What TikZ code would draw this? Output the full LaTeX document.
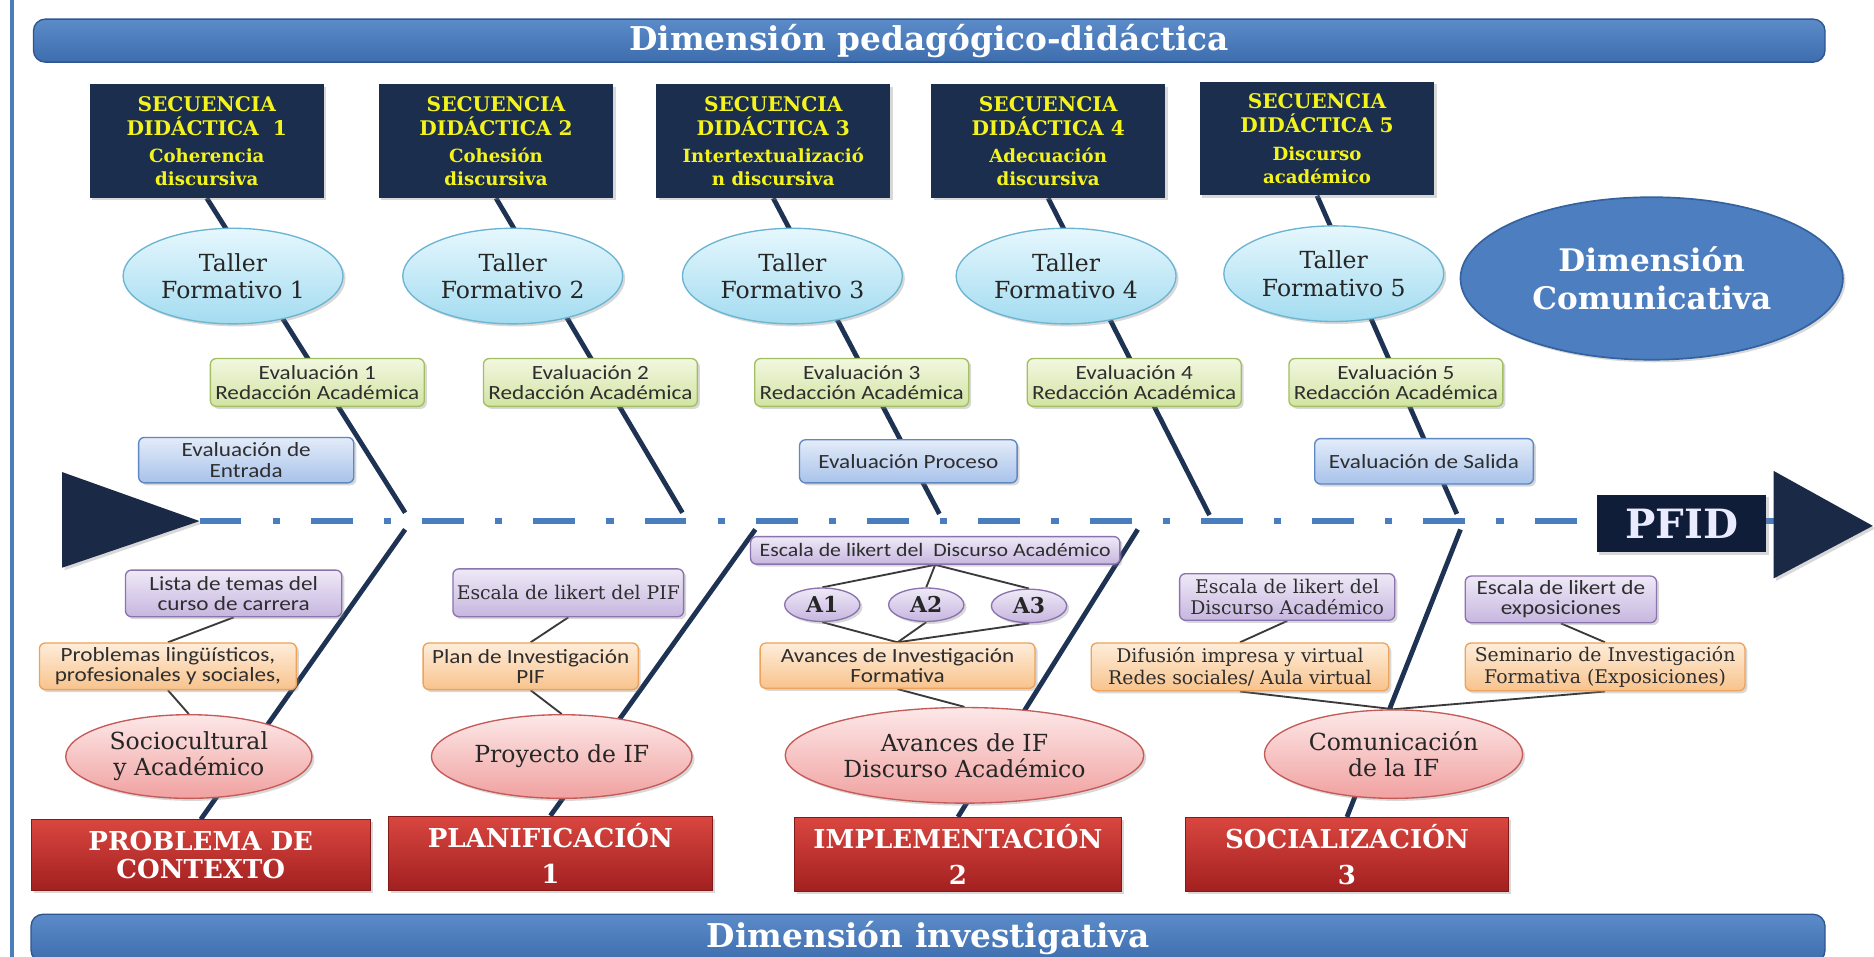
\documentclass[tikz,border=0pt]{standalone}
\usepackage{fontspec}
\setmainfont{DejaVu Serif}
\newfontfamily\calib[FakeStretch=1.15]{Carlito}
\usetikzlibrary{shapes.geometric,shadows,backgrounds}

\definecolor{bannerTop}{HTML}{5B8BC8}
\definecolor{bannerBot}{HTML}{3E6DAE}
\definecolor{bannerLine}{HTML}{2D5690}
\definecolor{seqNavy}{HTML}{1C2E4E}
\definecolor{seqText}{HTML}{F4F41C}
\definecolor{cyanTop}{HTML}{E6F7FD}
\definecolor{cyanBot}{HTML}{A3DCF0}
\definecolor{cyanLine}{HTML}{6CB5D2}
\definecolor{greenTop}{HTML}{F2F7E0}
\definecolor{greenBot}{HTML}{D2E4A2}
\definecolor{greenLine}{HTML}{A2BF63}
\definecolor{blueTop}{HTML}{E3ECF9}
\definecolor{blueBot}{HTML}{A8C2EA}
\definecolor{blueLine}{HTML}{5F87C2}
\definecolor{purpTop}{HTML}{EFE9F7}
\definecolor{purpBot}{HTML}{C6B6DF}
\definecolor{purpLine}{HTML}{8B73AE}
\definecolor{orgTop}{HTML}{FEEDDA}
\definecolor{orgBot}{HTML}{F8C38C}
\definecolor{orgLine}{HTML}{EDA35A}
\definecolor{pinkTop}{HTML}{FDE8E8}
\definecolor{pinkBot}{HTML}{F0A1A0}
\definecolor{pinkLine}{HTML}{C55B58}
\definecolor{redTop}{HTML}{D9463F}
\definecolor{redBot}{HTML}{A22020}
\definecolor{comFill}{HTML}{4D7FC0}
\definecolor{comLine}{HTML}{34629E}
\definecolor{arrowNavy}{HTML}{1A2946}
\definecolor{pfidNavy}{HTML}{0F1D38}
\definecolor{spineBlue}{HTML}{4A7DBE}
\definecolor{boneNavy}{HTML}{1E3254}
\definecolor{linkGray}{HTML}{3A3A3A}
\definecolor{boxText}{HTML}{2E2E2E}

\tikzset{
  sz/.style 2 args={minimum width=#1*0.025cm, minimum height=#2*0.025cm},
  shd/.style={drop shadow={shadow xshift=1.5pt, shadow yshift=-1.5pt, opacity=0.3}},
  banner/.style={rectangle, rounded corners=7pt, top color=bannerTop, bottom color=bannerBot,
    draw=bannerLine, line width=0.8pt, text=white, inner sep=0pt,
    font=\bfseries\fontsize{19.5}{22}\selectfont},
  seqbox/.style={rectangle, fill=seqNavy, text=seqText, inner sep=0pt, align=center, shd,
    font=\bfseries\fontsize{12}{13.6}\selectfont},
  taller/.style={ellipse, inner sep=0pt, top color=cyanTop, bottom color=cyanBot, draw=cyanLine,
    line width=0.8pt, align=center, text=black!85, shd, font=\fontsize{14}{16.4}\selectfont},
  smallbox/.style={rectangle, rounded corners=3.5pt, inner sep=0pt, align=center,
    line width=0.8pt, text=boxText, shd},
  sans/.style={font=\calib\fontsize{12}{12.2}\selectfont},
  serifsm/.style={font=\fontsize{11.2}{12.8}\selectfont},
  evalbox/.style={smallbox, sans, top color=greenTop, bottom color=greenBot, draw=greenLine},
  bluebox/.style={smallbox, sans, top color=blueTop, bottom color=blueBot, draw=blueLine},
  purpbox/.style={smallbox, top color=purpTop, bottom color=purpBot, draw=purpLine},
  orgbox/.style={smallbox, top color=orgTop, bottom color=orgBot, draw=orgLine},
  aball/.style={ellipse, inner sep=0pt, top color=purpTop, bottom color=purpBot, draw=purpLine,
    line width=0.8pt, text=black!85, shd, sz={63}{28}, font=\bfseries\fontsize{13}{13}\selectfont},
  pinkell/.style={ellipse, inner sep=0pt, top color=pinkTop, bottom color=pinkBot, draw=pinkLine,
    line width=0.8pt, align=center, text=black!85, shd, font=\fontsize{14}{15.6}\selectfont},
  redbox/.style={rectangle, inner sep=0pt, top color=redTop, bottom color=redBot,
    draw=redBot!80!black, line width=0.6pt, align=center, text=white, shd,
    font=\bfseries\fontsize{15.5}{17}\selectfont},
  bone/.style={draw=boneNavy, line width=2.85pt},
  link/.style={draw=linkGray, line width=1.1pt},
  spine/.style={draw=spineBlue, line width=3.2pt,
    dash pattern=on 24.9pt off 18.5pt on 4.3pt off 18.5pt},
}

\begin{document}
\begin{tikzpicture}[x=0.025cm, y=-0.025cm]
\useasboundingbox (0,0) rectangle (1568,800);

% thin rule along the left edge
\draw[spineBlue, line width=2.2pt] (10,-5) -- (10,805);

% dimension banners
\node[banner, sz={1499}{36}] (dimPed) at (777.5,34) {Dimensión pedagógico-didáctica};
\node[banner, sz={1501}{40}] (dimInv) at (776.5,785) {Dimensión investigativa};

% didactic sequences
\node[seqbox, sz={196}{95}] (sd1) at (173,118)
  {SECUENCIA\\[0.6pt]DIDÁCTICA\ \ 1\\[2.8pt]\fontsize{10.8}{13}\selectfont Coherencia\\\fontsize{10.8}{13}\selectfont discursiva};
\node[seqbox, sz={196}{95}] (sd2) at (415,118)
  {SECUENCIA\\[0.6pt]DIDÁCTICA 2\\[2.8pt]\fontsize{10.8}{13}\selectfont Cohesión\\\fontsize{10.8}{13}\selectfont discursiva};
\node[seqbox, sz={196}{95}] (sd3) at (647,118)
  {SECUENCIA\\[0.6pt]DIDÁCTICA 3\\[2.8pt]\fontsize{10.8}{13}\selectfont Intertextualizació\\\fontsize{10.8}{13}\selectfont n discursiva};
\node[seqbox, sz={196}{95}] (sd4) at (877,118)
  {SECUENCIA\\[0.6pt]DIDÁCTICA 4\\[2.8pt]\fontsize{10.8}{13}\selectfont Adecuación\\\fontsize{10.8}{13}\selectfont discursiva};
\node[seqbox, sz={196}{95}] (sd5) at (1102,116)
  {SECUENCIA\\[0.6pt]DIDÁCTICA 5\\[2.8pt]\fontsize{10.8}{13}\selectfont Discurso\\\fontsize{10.8}{13}\selectfont académico};

% formative workshops
\node[taller, sz={184}{80}] (t1) at (195,231) {Taller\\Formativo 1};
\node[taller, sz={184}{80}] (t2) at (429,231) {Taller\\Formativo 2};
\node[taller, sz={184}{80}] (t3) at (663,231) {Taller\\Formativo 3};
\node[taller, sz={184}{80}] (t4) at (892,231) {Taller\\Formativo 4};
\node[taller, sz={184}{80}] (t5) at (1116,229) {Taller\\Formativo 5};

\node[ellipse, inner sep=0pt, fill=comFill, draw=comLine, line width=1pt, text=white, align=center,
  shd, sz={320}{136}, font=\bfseries\fontsize{18.5}{22.7}\selectfont] (dimCom) at (1382,233)
  {Dimensión\\Comunicativa};

% writing evaluations
\node[evalbox, sz={179}{40}] (e1) at (265.5,320) {Evaluación 1\\Redacción Académica};
\node[evalbox, sz={179}{40}] (e2) at (494,320) {Evaluación 2\\Redacción Académica};
\node[evalbox, sz={179}{40}] (e3) at (721,320) {Evaluación 3\\Redacción Académica};
\node[evalbox, sz={179}{40}] (e4) at (949,320) {Evaluación 4\\Redacción Académica};
\node[evalbox, sz={179}{40}] (e5) at (1168,320) {Evaluación 5\\Redacción Académica};

\node[bluebox, sz={180}{38}] (entrada) at (206,385) {Evaluación de\\Entrada};
\node[bluebox, sz={182}{36}] (proceso) at (760,386) {Evaluación Proceso};
\node[bluebox, sz={183}{38}] (salida) at (1191.5,386) {Evaluación de Salida};

% head and tail of the spine
\coordinate (tip) at (167,436);
\coordinate (headbase) at (1484,436);
\fill[arrowNavy, shd] (52,395) -- (tip) -- (52,475) -- cycle;
\fill[arrowNavy, shd] (headbase) ++(0,-42) -- (1567,440) -- (1484,484) -- cycle;
\node[rectangle, fill=pfidNavy, text=white!92!blue, inner sep=0pt, shd, sz={142}{48},
  font=\bfseries\fontsize{24}{26}\selectfont] (pfid) at (1407,438) {PFID};

% research-side boxes
\node[purpbox, sans, sz={181}{39}] (lista) at (195.5,496.5) {Lista de temas del\\curso de carrera};
\node[orgbox, sans, sz={215}{39}] (prob) at (140.5,557.5) {Problemas lingüísticos,\\profesionales y sociales,};
\node[purpbox, serifsm, sz={193}{40}] (escpif) at (475.5,496) {Escala de likert del PIF};
\node[orgbox, sans, sz={180}{39}] (plan) at (444,557.5) {Plan de Investigación\\PIF};
\node[purpbox, sz={309}{23}, font=\calib\fontsize{11.3}{12}\selectfont] (escda) at (782.5,460.5)
  {Escala de likert del\ \ Discurso Académico};
\node[aball] (a1) at (688,506) {A1};
\node[aball] (a2) at (775,506) {A2};
\node[aball] (a3) at (861,507) {A3};
\node[orgbox, sans, sz={230}{38}] (avinv) at (751,557) {Avances de Investigación\\Formativa};
\node[purpbox, serifsm, sz={180}{39}] (escda2) at (1077,499.5) {Escala de likert del\\Discurso Académico};
\node[orgbox, serifsm, sz={249}{40}] (difus) at (1037.5,558) {Difusión impresa y virtual\\Redes sociales/ Aula virtual};
\node[purpbox, sans, sz={160}{39}] (escexp) at (1306,501.5) {Escala de likert de\\exposiciones};
\node[orgbox, serifsm, sz={234}{40}] (semin) at (1343,558) {Seminario de Investigación\\Formativa (Exposiciones)};

% products of each phase
\node[pinkell, sz={206}{70}] (socio) at (158,633) {Sociocultural\\y Académico};
\node[pinkell, sz={218}{70}] (proy) at (470,633) {Proyecto de IF};
\node[pinkell, sz={300}{80}] (avif) at (807,632) {Avances de IF\\Discurso Académico};
\node[pinkell, sz={216}{74}] (comu) at (1166,631) {Comunicación\\de la IF};

% phases
\node[redbox, sz={284}{59}] (rb1) at (168,715.5) {PROBLEMA DE\\CONTEXTO};
\node[redbox, sz={271}{62}] (rb2) at (460.5,714) {PLANIFICACIÓN\\[4pt]1};
\node[redbox, sz={273}{62}] (rb3) at (801.5,715) {IMPLEMENTACIÓN\\[4pt]2};
\node[redbox, sz={270}{62}] (rb4) at (1127,715) {SOCIALIZACIÓN\\[4pt]3};

% where the bones meet the spine
\coordinate (u1) at (339,429);
\coordinate (u2) at (571,429);
\coordinate (u3) at (786,430);
\coordinate (u4) at (1012,431);
\coordinate (u5) at (1219,430);
\coordinate (l1) at (339,443);
\coordinate (l2) at (632,443);
\coordinate (l3) at (952,443);
\coordinate (l4) at (1222,443);

\begin{pgfonlayer}{background}
  \fill[white] (0,0) rectangle (1568,800);
  \draw[spine] (tip) -- (headbase);
  % upper bones run behind the workshop and evaluation nodes
  \draw[bone] (sd1.south) -- (u1);
  \draw[bone] (sd2.south) -- (u2);
  \draw[bone] (sd3.south) -- (u3);
  \draw[bone] (sd4.south) -- (u4);
  \draw[bone] (sd5.south) -- (u5);
  % lower bones run behind the product ellipses
  \draw[bone] (rb1.north) -- (l1);
  \draw[bone] (rb2.north) -- (l2);
  \draw[bone] (rb3.north) -- (l3);
  \draw[bone] (rb4.north) -- (l4);
  % thin links between the research boxes
  \draw[link] (lista.south) -- (prob.north);
  \draw[link] (prob.south) -- (socio.north);
  \draw[link] (escpif.south) -- (plan.north);
  \draw[link] (plan.south) -- (proy.north);
  \draw[link] (escda.south) -- (a1.north);
  \draw[link] (escda.south) -- (a2.north);
  \draw[link] (escda.south) -- (a3.north);
  \draw[link] (a1.south) -- (avinv.north);
  \draw[link] (a2.south) -- (avinv.north);
  \draw[link] (a3.south) -- (avinv.north);
  \draw[link] (avinv.south) -- (avif.north);
  \draw[link] (escda2.south) -- (difus.north);
  \draw[link] (escexp.south) -- (semin.north);
  \draw[link] (difus.south) -- (comu.north);
  \draw[link] (semin.south) -- (comu.north);
\end{pgfonlayer}
\end{tikzpicture}
\end{document}
